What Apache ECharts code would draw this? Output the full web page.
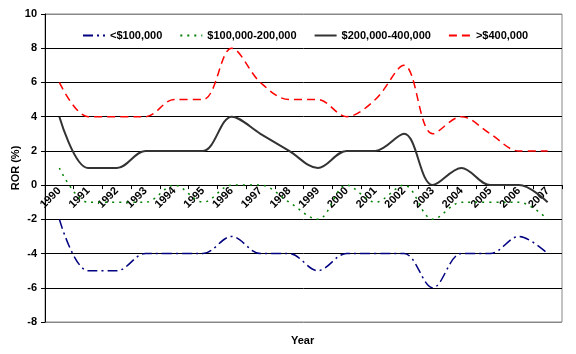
<!DOCTYPE html>
<html lang="en">
<head>
<meta charset="UTF-8">
<title>ROR by income</title>
<script src="https://cdn.jsdelivr.net/npm/echarts@6/dist/echarts.min.js"></script>
<style>
  html, body { margin: 0; padding: 0; background: #fff; }
  #chart { width: 576px; height: 354px; }
</style>
</head>
<body>
<div id="chart"></div>
<script>
var years = ['1990', '1991', '1992', '1993', '1994', '1995', '1996', '1997', '1998',
             '1999', '2000', '2001', '2002', '2003', '2004', '2005', '2006', '2007'];
var under100 = [-2, -5, -5, -4, -4, -4, -3, -4, -4, -5, -4, -4, -4, -6, -4, -4, -3, -4];
var from100to200 = [1, -1, -1, -1, 0, -1, 0, 0, -1, -2, 0, -1, 0, -2, -1, -1, -1, -2];
var from200to400 = [4, 1, 1, 2, 2, 2, 4, 3, 2, 1, 2, 2, 3, 0, 1, 0, 0, -1];
var over400 = [6, 4, 4, 4, 5, 5, 8, 6, 5, 5, 4, 5, 7, 3, 4, 3, 2, 2];
var yTicks = [-8, -6, -4, -2, 0, 2, 4, 6, 8, 10];

var font = 'Liberation Sans, Arial, sans-serif';
var chart = echarts.init(document.getElementById('chart'));

// grey at the outer edges (-8 and 10), black inside
var splitColors = yTicks.map(function (t) { return (t === -8 || t === 10) ? '#888' : '#000'; });

var gridTop = 14, gridBottom = 32, chartH = 354;
var plotH = chartH - gridTop - gridBottom;
// move the category axis up to the zero line
var zeroOffset = -plotH * (0 - yTicks[0]) / (yTicks[yTicks.length - 1] - yTicks[0]);

function lineSeries(name, data, color, width, dash) {
    return {
        name: name,
        type: 'line',
        data: data,
        smooth: 0.35,
        symbol: 'none',
        lineStyle: { color: color, width: width, type: dash },
        itemStyle: { color: color }
    };
}

chart.setOption({
    animation: false,
    grid: {
        left: 45, right: 14, top: gridTop, bottom: gridBottom,
        containLabel: false, outerBoundsMode: 'none',
        show: true, borderColor: '#888', borderWidth: 1
    },
    legend: {
        top: 25,
        left: 77,
        itemWidth: 22,
        itemHeight: 10,
        itemGap: 17,
        itemStyle: { opacity: 0 },
        textStyle: { fontFamily: font, fontWeight: 'bold', fontSize: 11, color: '#000' },
        data: ['<$100,000', '$100,000-200,000', '$200,000-400,000', '>$400,000']
    },
    graphic: [{
        type: 'text',
        left: 291,
        top: 335,
        style: { text: 'Year', font: 'bold 11px ' + font, fill: '#000' }
    }],
    xAxis: {
        type: 'category',
        data: years,
        boundaryGap: true,
        offset: zeroOffset,
        axisLine: { onZero: false, lineStyle: { color: '#000', width: 1 } },
        axisTick: { show: true, length: 4, lineStyle: { color: '#000' } },
        axisLabel: { rotate: 45, fontFamily: font, fontWeight: 'bold', fontSize: 11, color: '#000', margin: 4 }
    },
    yAxis: {
        type: 'value',
        min: -8,
        max: 10,
        interval: 2,
        name: 'ROR (%)',
        nameLocation: 'middle',
        nameGap: 24,
        nameMoveOverlap: false,
        nameTextStyle: { fontFamily: font, fontWeight: 'bold', fontSize: 11, color: '#000' },
        axisLine: { show: true, lineStyle: { color: '#000' } },
        axisTick: { show: true, length: 4, lineStyle: { color: '#000' } },
        axisLabel: { fontFamily: font, fontWeight: 'bold', fontSize: 11, color: '#000', margin: 8 },
        splitLine: { show: true, lineStyle: { color: splitColors, width: 1 } }
    },
    series: [
        lineSeries('<$100,000', under100, '#000080', 1.5, [10, 4, 2, 4]),
        lineSeries('$100,000-200,000', from100to200, '#008000', 1.5, [2, 5]),
        lineSeries('$200,000-400,000', from200to400, '#333333', 2, 'solid'),
        lineSeries('>$400,000', over400, '#ff0000', 1.5, [8, 5])
    ]
});
</script>
</body>
</html>
